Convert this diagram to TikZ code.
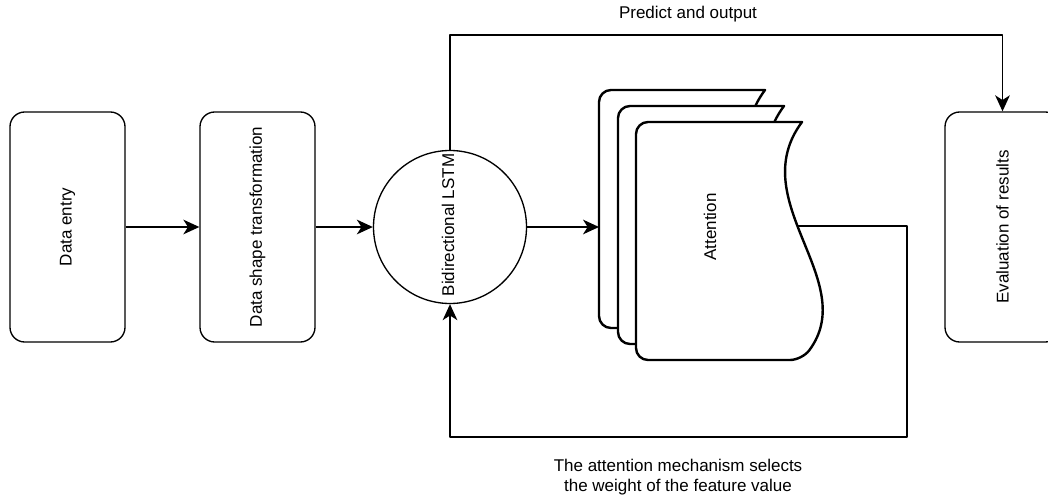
\documentclass[tikz,border=0pt]{standalone}
\usepackage{fontspec}
\setmainfont{Liberation Sans}
\usetikzlibrary{arrows.meta}
\newcommand{\attpage}[1]{%
  \begin{scope}[shift={(#1)}]
    \filldraw[fill=white,draw=black,line width=1.8pt]
      (802,122) [rounded corners=9pt] -- (636,122) -- (636,360) -- (802,360)
      [sharp corners] .. controls (861,281) and (743,201) .. (802,122) -- cycle;
  \end{scope}}

\begin{document}
\begin{tikzpicture}[x=0.75pt,y=-0.75pt,line cap=butt,line join=round,
  >={Stealth[length=12pt,width=11pt,inset=3.5pt]},
  every node/.append style={font=\fontsize{12.75}{15.3}\selectfont},
  procbox/.style={draw,line width=1pt,rounded corners=11pt,
    minimum width=86.25pt,minimum height=172.5pt,inner sep=0pt},
  vtext/.style={rotate=90,inner sep=0pt},
  flow/.style={line width=1pt}]

\useasboundingbox (0,0) rectangle (1048,499);

% =============================== nodes ================================
\coordinate (attin)  at (599,227);
\coordinate (attout) at (797,226);
\coordinate (fbtop)  at (907,226);
\coordinate (fbbot)  at (907,437);
\coordinate (predL)  at (450,35);

% ======================== attention (3 pages) =========================
\attpage{-37,-32}
\attpage{-18,-16}
\attpage{0,0}
\node[vtext] (attn) at (710,227) {Attention};

% ============================ components ==============================
\node[procbox] (entry)  at (67.5,227)   {};
\node[procbox] (shape)  at (257.5,227)  {};
\node[procbox] (result) at (1002.5,227) {};
\node[draw,circle,line width=1pt,minimum size=114.75pt,inner sep=0pt]
  (lstm) at (450,227) {};

\node[vtext] (entrytxt)  at (entry)     {Data entry};
\node[vtext] (shapetxt)  at (shape)     {Data shape transformation};
\node[vtext] (resulttxt) at (result)    {Evaluation of results};
\node[vtext] (lstmtxt)   at (448,225)   {Bidirectional LSTM};

% ============================== arrows ================================
\draw[->,flow] (entry) -- (shape);
\draw[->,flow] (shape) -- (lstm);
\draw[->,flow] (lstm) -- (attin);

% prediction path
\draw[->,flow] (lstm.north) -- (predL) -| (result.north);
% feedback of the attention weights
\draw[->,flow] (attout) -- (fbtop) -- (fbbot) -| (lstm.south);

% ============================== labels ================================
\node (predtxt) at (688,14) {Predict and output};
\node[align=center] (fbtxt) at (678,477)
  {The attention mechanism selects\\the weight of the feature value};

\end{tikzpicture}
\end{document}
